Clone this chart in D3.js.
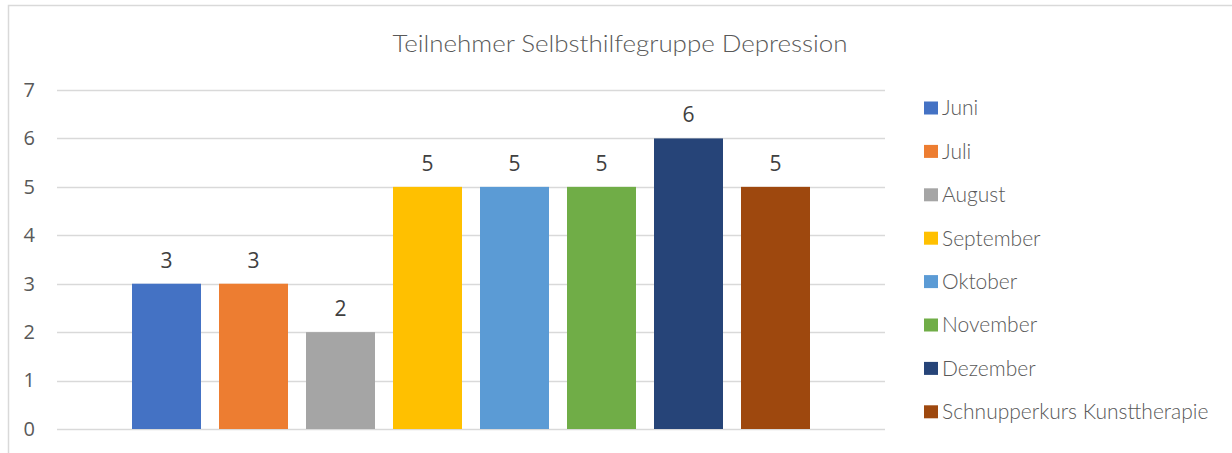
<!DOCTYPE html>
<html><head><meta charset="utf-8">
<script src="https://cdn.jsdelivr.net/npm/d3@7"></script>
<style>
html,body{margin:0;padding:0;background:#fff;}
svg{display:block;}
</style></head>
<body>
<svg id="chart" width="1232" height="453"></svg>
<script>
const title = "Teilnehmer Selbsthilfegruppe Depression";
const series = ["Juni","Juli","August","September","Oktober","November","Dezember","Schnupperkurs Kunsttherapie"];
const values = [3,3,2,5,5,5,6,5];
const colors = ["#4472C4","#ED7D31","#A5A5A5","#FFC000","#5B9BD5","#70AD47","#264478","#9E480E"];
const yTicks = [0,1,2,3,4,5,6,7];

const svg = d3.select("#chart");
const plot = {left:57, right:885, top:90, bottom:429};

// chart border
svg.append("rect").attr("x",8.5).attr("y",5.5).attr("width",1240).attr("height",460)
  .attr("fill","none").attr("stroke","#d9d9d9").attr("stroke-width",1.5);

svg.append("text").attr("x",620).attr("y",52).attr("text-anchor","middle")
  .attr("font-family","Lato").attr("font-weight",300).attr("font-size",24)
  .attr("fill","#595959").attr("textLength",455).attr("lengthAdjust","spacingAndGlyphs")
  .text(title);

const y = d3.scaleLinear().domain([0,7]).range([plot.bottom, plot.top]);
const cx = (plot.left+plot.right)/2;
const x = d3.scaleBand().domain(series).range([cx-348, cx+348]).paddingInner(0.207).paddingOuter(0.1035);

// gridlines
svg.append("g").selectAll("line").data(yTicks).join("line")
  .attr("x1",plot.left).attr("x2",plot.right)
  .attr("y1",d=>Math.round(y(d))+0.5).attr("y2",d=>Math.round(y(d))+0.5)
  .attr("stroke","#d9d9d9").attr("stroke-width",1.5);

// y axis labels
const yAxis = d3.axisLeft(y).tickValues(yTicks).tickFormat(d3.format("d")).tickSize(0).tickPadding(0);
const ya = svg.append("g").attr("transform","translate(35,0)").call(yAxis);
ya.select(".domain").remove();
ya.selectAll("text").attr("font-family","Open Sans").attr("font-size",20).attr("fill","#595959");

// bars
svg.append("g").selectAll("rect").data(series).join("rect")
  .attr("x",d=>x(d)).attr("width",x.bandwidth())
  .attr("y",(d,i)=>y(values[i])).attr("height",(d,i)=>y(0)-y(values[i]))
  .attr("fill",(d,i)=>colors[i]);

// data labels
svg.append("g").selectAll("text").data(series).join("text")
  .attr("x",d=>x(d)+x.bandwidth()/2).attr("y",(d,i)=>y(values[i])-16)
  .attr("text-anchor","middle").attr("font-family","Open Sans").attr("font-size",21)
  .attr("fill","#404040").text((d,i)=>values[i]);

// legend
const lg = svg.append("g").selectAll("g").data(series).join("g")
  .attr("transform",(d,i)=>`translate(924,${108 + i*43.4})`);
lg.append("rect").attr("x",0).attr("y",-6.5).attr("width",14).attr("height",13).attr("fill",(d,i)=>colors[i]);
lg.append("text").attr("x",18).attr("y",0).attr("dy","0.35em")
  .attr("font-family","Lato").attr("font-weight",300).attr("font-size",21)
  .attr("fill","#595959").text(d=>d);
</script>
</body></html>
